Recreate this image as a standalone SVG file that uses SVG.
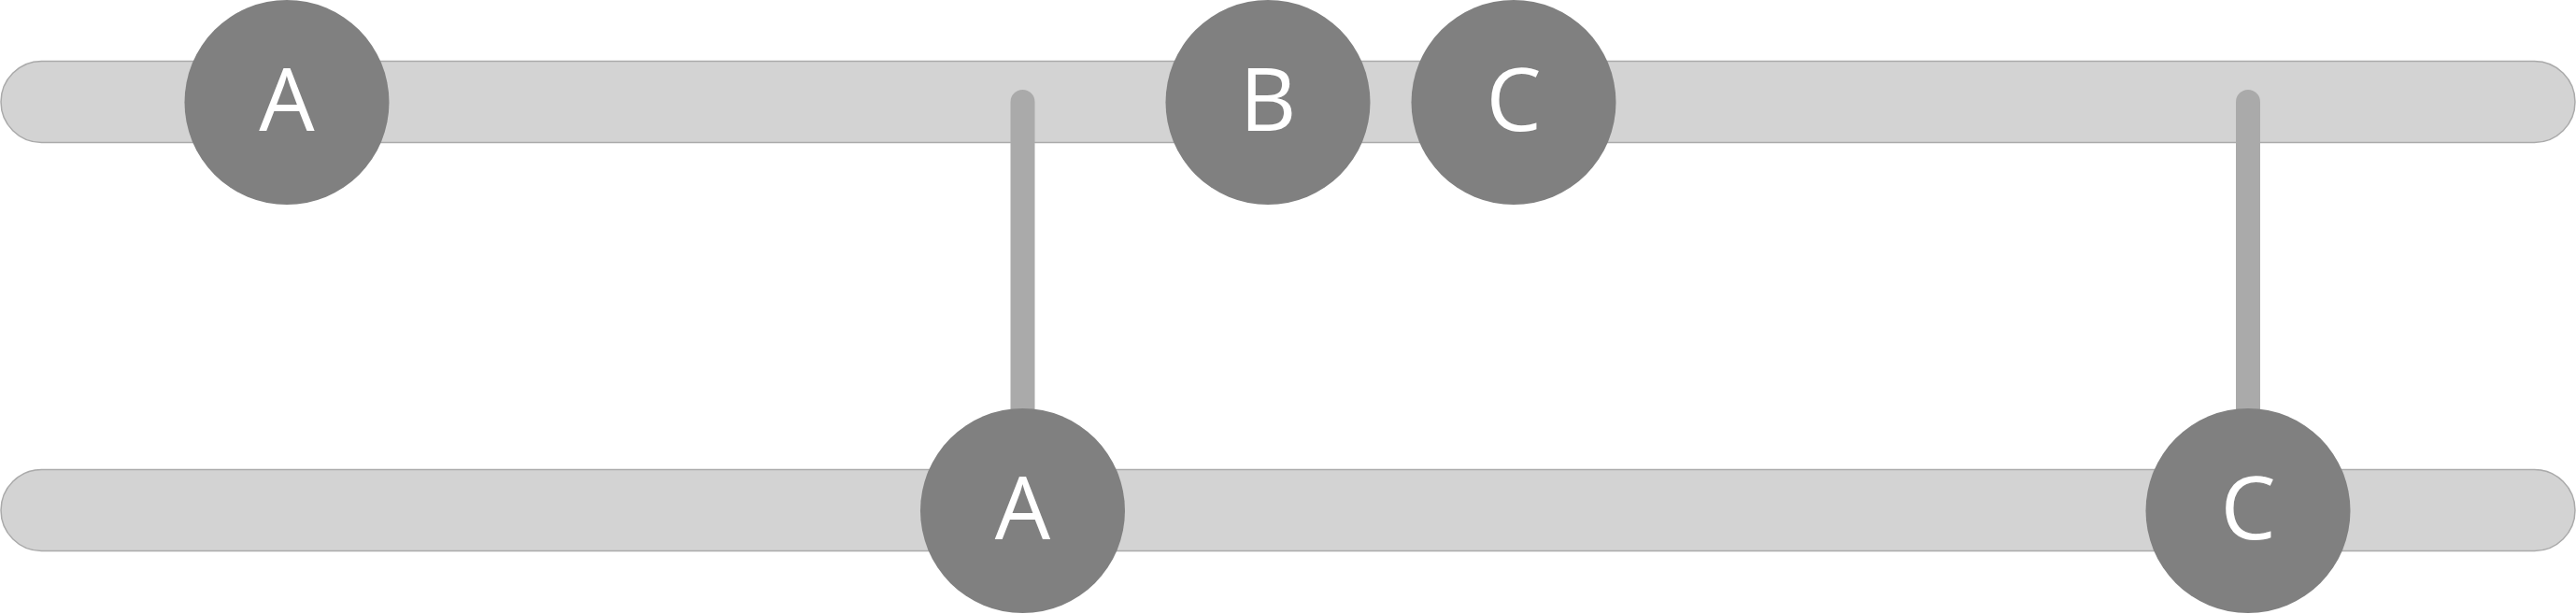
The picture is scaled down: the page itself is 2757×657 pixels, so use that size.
<svg xmlns="http://www.w3.org/2000/svg" width="2757" height="657" viewBox="0 0 2757 657">
<style>
.bar{fill:#d3d3d3;stroke:#aaaaaa;stroke-width:1.5}
.conn{stroke:#aaaaaa;stroke-width:26;stroke-linecap:round;fill:none}
.node circle{fill:#808080}
.node text{fill:#ffffff;font-family:"Open Sans","Noto Sans",sans-serif;font-size:94px;text-anchor:middle}
</style>
<g id="bars">
<rect id="bar-top" class="bar" x="1" y="65.5" width="2755" height="87" rx="43.5" ry="43.5"/>
<rect id="bar-bottom" class="bar" x="1" y="502.5" width="2755" height="87" rx="43.5" ry="43.5"/>
</g>
<g id="connectors">
<line class="conn" x1="1094.5" y1="109" x2="1094.5" y2="546"/>
<line class="conn" x1="2406" y1="109" x2="2406" y2="546"/>
</g>
<g id="node-a-top" class="node"><circle cx="307" cy="109.5" r="109.5"/><text x="307" y="140">A</text></g>
<g id="node-b-top" class="node"><circle cx="1357" cy="109.5" r="109.5"/><text x="1357" y="140">B</text></g>
<g id="node-c-top" class="node"><circle cx="1620" cy="109.5" r="109.5"/><text x="1620" y="140">C</text></g>
<g id="node-a-bottom" class="node"><circle cx="1094.5" cy="546.5" r="109.5"/><text x="1094.5" y="577">A</text></g>
<g id="node-c-bottom" class="node"><circle cx="2406" cy="546.5" r="109.5"/><text x="2406" y="577">C</text></g>
</svg>
